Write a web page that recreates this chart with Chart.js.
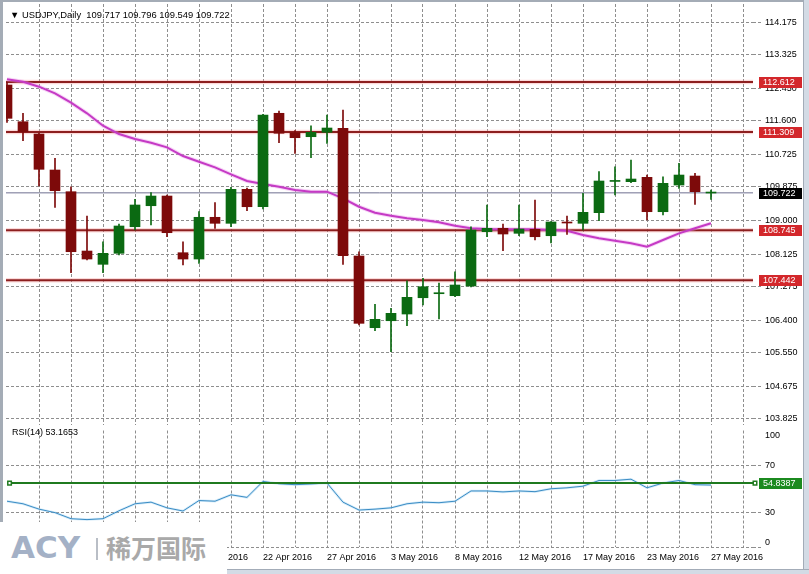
<!DOCTYPE html>
<html>
<head>
<meta charset="utf-8">
<title>USDJPY Daily</title>
<script src="https://cdn.jsdelivr.net/npm/chart.js@4.4.1/dist/chart.umd.min.js"></script>
<style>
  html, body { margin: 0; padding: 0; background: #fff; }
  #frame { position: relative; width: 809px; height: 574px; background: #fff; overflow: hidden; }
  canvas { position: absolute; left: 0; }
  .txt { position: absolute; font-family: "Liberation Sans", Arial, sans-serif; font-size: 9px; line-height: 11px; color: #000; white-space: pre; }
  #title { font-size: 9.4px; }
  #logo { position: absolute; left: 0; top: 522px; width: 227px; height: 52px; background: #fff; z-index: 5; }
  #logo .acy { position: absolute; left: 11px; top: 8px; font-family: "DejaVu Sans", sans-serif; font-weight: bold; font-size: 31px; line-height: 34px; color: #a4b1c6; letter-spacing: 0px; }
  #logo .bar { position: absolute; left: 96px; top: 16px; width: 2px; height: 22px; background: #b9bec6; }
  #logo .cn { position: absolute; left: 106px; top: 9px; font-family: "Noto Sans CJK SC", sans-serif; font-weight: bold; font-size: 25px; line-height: 32px; color: #a9a9a9; }
  .edge { position: absolute; z-index: 4; }
</style>
</head>
<body>
<div id="frame">
  <canvas id="priceChart" width="809" height="425" style="top:0"></canvas>
  <canvas id="rsiChart" width="809" height="149" style="top:425px"></canvas>
  <div class="txt" id="title" style="left:10px;top:9px"></div>
  <div class="txt" id="rsiTitle" style="left:12px;top:427px"></div>
  <div id="logo"><div class="acy">ACY</div><div class="bar"></div><div class="cn">稀万国际</div></div>
  <div class="edge" style="left:0;top:0;width:3px;height:574px;background:#a4acb6"></div>
  <div class="edge" style="left:0;top:0;width:809px;height:2px;background:#a4acb6"></div>
  <div class="edge" style="left:803px;top:0;width:6px;height:574px;background:#d3dbe5;border-left:1px solid #a3acb8;box-sizing:border-box"></div>
  <div class="edge" style="left:0;top:569px;width:809px;height:5px;background:#d3dbe5;border-top:1px solid #a3acb8;box-sizing:border-box"></div>
</div>
<script>
// daily candles, 31 Mar - 27 May 2016
const dates = ["31 Mar 2016","1 Apr 2016","4 Apr 2016","5 Apr 2016","6 Apr 2016","7 Apr 2016","8 Apr 2016",
  "11 Apr 2016","12 Apr 2016","13 Apr 2016","14 Apr 2016","15 Apr 2016","18 Apr 2016","19 Apr 2016",
  "20 Apr 2016","21 Apr 2016","22 Apr 2016","24 Apr 2016","25 Apr 2016","26 Apr 2016","27 Apr 2016",
  "28 Apr 2016","29 Apr 2016","2 May 2016","3 May 2016","4 May 2016","5 May 2016","6 May 2016",
  "8 May 2016","9 May 2016","10 May 2016","11 May 2016","12 May 2016","13 May 2016","15 May 2016",
  "16 May 2016","17 May 2016","18 May 2016","19 May 2016","20 May 2016","23 May 2016","24 May 2016",
  "25 May 2016","26 May 2016","27 May 2016"];

const opens  = [112.536,111.578,111.257,110.318,109.752,108.204,107.857,108.144,108.838,109.386,109.639,108.160,107.995,109.084,108.927,109.814,109.360,111.798,111.291,111.187,111.302,111.406,108.074,106.203,106.385,106.560,106.985,107.090,107.038,107.291,108.708,108.797,108.666,108.770,108.603,108.955,108.927,109.204,110.020,110.013,110.127,109.230,109.926,110.161,109.717];
const highs  = [112.600,111.798,111.280,110.623,109.882,109.118,108.447,108.909,109.553,109.726,109.665,108.447,109.230,109.465,109.866,109.848,111.771,111.858,111.344,111.474,111.753,111.884,108.186,106.813,106.709,107.429,107.492,107.369,107.664,108.838,109.405,108.909,109.405,109.535,108.970,109.118,109.710,110.274,110.404,110.579,110.187,110.143,110.493,110.232,109.796];
const lows   = [111.563,111.083,109.900,109.345,107.638,107.970,107.638,108.100,108.752,108.883,108.577,107.839,107.883,108.797,108.838,109.256,109.300,111.030,110.754,110.639,111.015,107.857,106.273,106.124,105.576,106.255,106.795,106.435,107.012,107.270,108.577,108.212,108.603,108.491,108.413,108.640,108.752,108.995,109.665,109.990,109.013,109.143,109.840,109.423,109.549];
const closes = [111.667,111.317,110.336,109.778,108.186,107.995,108.144,108.857,109.405,109.639,108.682,107.995,109.084,108.927,109.814,109.360,111.753,111.276,111.161,111.302,111.414,108.081,106.317,106.422,106.578,106.996,107.272,107.110,107.317,108.752,108.797,108.648,108.778,108.577,108.961,108.935,109.214,110.031,110.030,110.083,109.230,109.971,110.187,109.752,109.722];

// magenta moving average
const ma = [112.685,112.622,112.492,112.320,112.074,111.798,111.474,111.257,111.127,111.030,110.910,110.683,110.535,110.388,110.206,110.031,109.953,109.882,109.796,109.752,109.752,109.579,109.360,109.204,109.125,109.058,109.013,108.953,108.864,108.797,108.778,108.770,108.770,108.770,108.752,108.734,108.622,108.536,108.473,108.405,108.316,108.491,108.666,108.797,108.927];

// RSI(14)
const rsi = [39.3,37.1,32.5,29.5,24.3,23.5,24.3,31.1,37.1,38.5,33.6,30.9,39.9,39.3,44.8,42.6,56.3,54.3,53.5,54.1,54.9,38.5,31.7,32.5,33.6,37.1,38.5,38.0,39.3,48.1,48.1,47.3,48.1,47.5,50.0,50.8,52.2,57.1,57.1,58.2,50.8,54.9,57.1,53.5,53.1653];

const levels = [112.612, 111.309, 108.745, 107.442];
const rsiLevel = 54.8387;
const priceTicks = [103.825, 104.675, 105.550, 106.400, 107.275, 108.125, 109.000, 109.875, 110.725, 111.600, 112.450, 113.325, 114.175];
const rsiTicks = [0, 30, 70, 100];

const xMin = -0.0625, xMax = 46.625;
const gridCol = "#8e8e8e";
const bull = "#0b6a12", bear = "#7d0a0a";
const FONT = '"Liberation Sans", Arial, sans-serif';

Chart.defaults.font.family = FONT;
Chart.defaults.font.size = 9;
Chart.defaults.color = "#000";
Chart.defaults.animation = false;

const last = closes.length - 1;
document.getElementById("title").textContent =
  "\u25BC USDJPY,Daily  " + opens[last].toFixed(3) + " " + highs[last].toFixed(3) + " " + lows[last].toFixed(3) + " " + closes[last].toFixed(3);
document.getElementById("rsiTitle").textContent = "RSI(14) " + rsi[last].toFixed(4);

const isUp = closes.map((c, i) => c >= opens[i]);
const candleCols = isUp.map((u) => (u ? bull : bear));

// value tags on the right axis
const tagPlugin = {
  id: "tags",
  afterDraw(chart, args, opts) {
    const ctx = chart.ctx;
    const ys = chart.scales.y;
    ctx.save();
    ctx.font = "9px " + FONT;
    ctx.textBaseline = "middle";
    (opts.items || []).forEach((t) => {
      const py = Math.round(ys.getPixelForValue(t.value));
      ctx.fillStyle = t.bg;
      ctx.fillRect(759, py - 5, 43, 11);
      ctx.fillStyle = "#fff";
      ctx.fillText(t.text, 763, py + 0.5);
    });
    ctx.restore();
  },
};

function xAxis(showLabels) {
  return {
    type: "linear",
    min: xMin,
    max: xMax,
    offset: false,
    afterBuildTicks: (s) => {
      const t = [];
      for (let v = 0; v <= 46; v += 2) t.push({ value: v });
      s.ticks = t;
    },
    afterFit: (s) => {
      s.height = showLabels ? 27 : 0;
      s.paddingLeft = 0;
      s.paddingRight = 0;
    },
    grid: {
      offset: false,
      color: (c) => (c.tick && c.tick.value === 0 ? "rgba(0,0,0,0)" : gridCol),
      lineWidth: 1,
      drawTicks: false,
    },
    border: { display: false, dash: [3, 2] },
    ticks: {
      display: showLabels,
      autoSkip: false,
      maxRotation: 0,
      align: "start",
      padding: 5,
      callback: (v) => (v % 4 === 0 && dates[v] ? dates[v] : ""),
    },
  };
}

function lineSet(level, color, width, order) {
  return {
    type: "line",
    data: [{ x: -1, y: level }, { x: 48, y: level }],
    borderColor: color,
    borderWidth: width,
    pointRadius: 0,
    order: order,
  };
}

const priceSets = [];
priceSets.push({
  type: "bar",
  label: "body",
  data: opens.map((o, i) => ({ x: i, y: [o, closes[i]] })),
  backgroundColor: candleCols,
  barThickness: 10,
  minBarLength: 1,
  grouped: false,
  order: 0,
});
priceSets.push({
  type: "bar",
  label: "wick",
  data: lows.map((l, i) => ({ x: i, y: [l, highs[i]] })),
  backgroundColor: candleCols,
  barThickness: 1,
  grouped: false,
  order: 1,
});
priceSets.push({
  type: "line",
  label: "MA",
  data: ma.map((v, i) => ({ x: i, y: v })),
  borderColor: "#c53ac5",
  borderWidth: 2,
  pointRadius: 0,
  order: 2,
});
priceSets.push({
  type: "line",
  label: "MA glow",
  data: ma.map((v, i) => ({ x: i, y: v })),
  borderColor: "rgba(235,150,235,0.4)",
  borderWidth: 4,
  pointRadius: 0,
  order: 3,
});
levels.forEach((lv) => {
  priceSets.push(lineSet(lv, "#8d1f1f", 2, 4));
  priceSets.push(lineSet(lv, "rgba(245,140,140,0.32)", 4.5, 5));
});
priceSets.push(lineSet(closes[last], "#6f7090", 1, 4));

new Chart(document.getElementById("priceChart"), {
  type: "bar",
  data: { datasets: priceSets },
  plugins: [tagPlugin],
  options: {
    responsive: false,
    layout: { padding: { left: 6, top: 4, right: 0, bottom: 0 } },
    plugins: {
      legend: { display: false },
      tooltip: { enabled: false },
      tags: {
        items: levels
          .map((v) => ({ value: v, text: v.toFixed(3), bg: "#d3272b" }))
          .concat([{ value: closes[last], text: closes[last].toFixed(3), bg: "#000" }]),
      },
    },
    scales: {
      x: xAxis(false),
      y: {
        type: "linear",
        position: "right",
        min: 103.664,
        max: 114.65,
        afterBuildTicks: (s) => {
          s.ticks = priceTicks.map((v) => ({ value: v }));
        },
        afterFit: (s) => {
          s.width = 56;
          s.paddingTop = 0;
          s.paddingBottom = 0;
        },
        grid: { color: gridCol, tickLength: 8, tickBorderDash: [3, 2] },
        border: { display: false, dash: [3, 2] },
        ticks: { crossAlign: "near", padding: 4, callback: (v) => Number(v).toFixed(3) },
      },
    },
  },
});

// RSI pane; edge labels 0 and 100 sit a little inside the pane
const rsiTickPos = [0].concat(rsiTicks.map((v) => (v === 0 ? 4 : v === 100 ? 96 : v)));
const rsiTickText = [""].concat(rsiTicks.map(String));

new Chart(document.getElementById("rsiChart"), {
  type: "line",
  data: {
    datasets: [
      {
        label: "level",
        data: [{ x: 0.16, y: rsiLevel }, { x: 46.75, y: rsiLevel }],
        borderColor: "#1f7a1f",
        borderWidth: 2,
        pointStyle: "rect",
        pointRadius: 2.5,
        pointBackgroundColor: "#fff",
        pointBorderColor: "#1f7a1f",
        pointBorderWidth: 1.5,
        clip: false,
        order: 0,
      },
      {
        label: "RSI",
        data: rsi.map((v, i) => ({ x: i, y: v })),
        borderColor: "#3a8cc4",
        borderWidth: 1,
        pointRadius: 0,
        order: 1,
      },
      {
        label: "RSI glow",
        data: rsi.map((v, i) => ({ x: i, y: v })),
        borderColor: "rgba(150,205,240,0.4)",
        borderWidth: 2.5,
        pointRadius: 0,
        order: 2,
      },
    ],
  },
  plugins: [tagPlugin],
  options: {
    responsive: false,
    layout: { padding: { left: 6, top: 0, right: 0, bottom: 0 } },
    plugins: {
      legend: { display: false },
      tooltip: { enabled: false },
      tags: { items: [{ value: rsiLevel, text: rsiLevel.toFixed(4), bg: "#1b8a1f" }] },
    },
    scales: {
      x: xAxis(true),
      y: {
        type: "linear",
        position: "right",
        min: 0,
        max: 100,
        afterBuildTicks: (s) => {
          s.ticks = rsiTickPos.map((v) => ({ value: v }));
        },
        afterFit: (s) => {
          s.width = 56;
          s.paddingTop = 0;
          s.paddingBottom = 0;
        },
        grid: {
          color: (c) => (c.tick && (c.tick.value === 4 || c.tick.value === 96) ? "rgba(0,0,0,0)" : gridCol),
          tickLength: 8,
          tickBorderDash: [3, 2],
        },
        border: { display: false, dash: [3, 2] },
        ticks: { crossAlign: "near", padding: 4, callback: (v, i) => rsiTickText[i] },
      },
    },
  },
});
</script>
</body>
</html>
